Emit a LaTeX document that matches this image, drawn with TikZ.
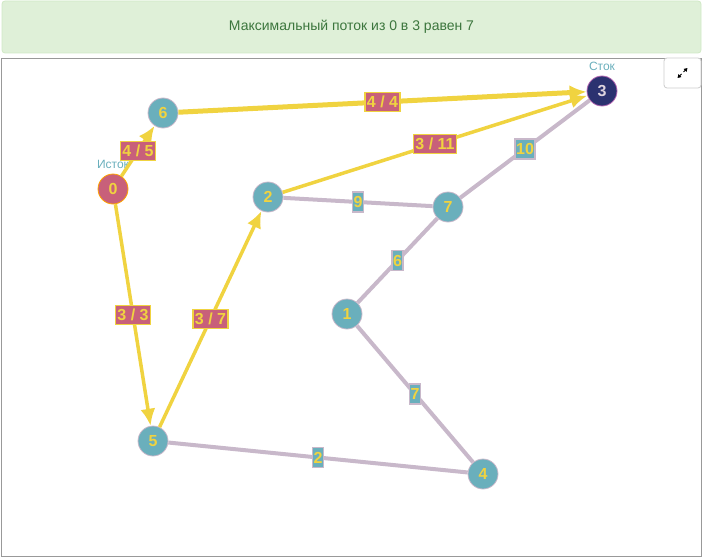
\documentclass[tikz,border=0pt]{standalone}
\usepackage{fontspec}
\setmainfont{Liberation Sans}
\usetikzlibrary{arrows,arrows.meta,positioning}
\definecolor{vtxteal}{HTML}{6AAFBC}
\definecolor{vtxred}{HTML}{C8607A}
\definecolor{vtxnavy}{HTML}{2B3270}
\definecolor{flowyel}{HTML}{F0D340}
\definecolor{restgrey}{HTML}{C8B8CA}
\definecolor{bannerbg}{HTML}{DFF0D8}
\definecolor{bannerln}{HTML}{D0E9C6}
\definecolor{bannertx}{HTML}{3C763D}
\tikzset{>={Latex[length=17pt,width=15pt]}}

\begin{document}
\begin{tikzpicture}[x=1pt,y=-1pt,
    vtx/.style={circle,minimum size=30pt,inner sep=0pt,fill=vtxteal,draw=restgrey,line width=0.8pt,
        text=flowyel,font=\fontsize{16}{16}\selectfont\bfseries},
    flow/.style={draw=flowyel,line width=3.5pt},
    rest/.style={draw=restgrey,line width=4pt},
    flowlbl/.style={rectangle,fill=vtxred,draw=flowyel,line width=1.6pt,text=flowyel,
        inner xsep=2pt,inner ysep=0pt,minimum height=19pt,font=\fontsize{16}{16}\selectfont\bfseries},
    restlbl/.style={rectangle,fill=vtxteal,draw=restgrey,line width=1.6pt,text=flowyel,
        inner xsep=1.2pt,inner ysep=0pt,minimum height=20pt,font=\fontsize{16}{16}\selectfont\bfseries},
    tag/.style={text=vtxteal,font=\fontsize{12}{12}\selectfont}]

        \useasboundingbox (0,0) rectangle (703,559);

        % banner and frame
        \node[draw=bannerln,fill=bannerbg,rounded corners=3pt,line width=0.8pt,minimum width=699pt,minimum height=52pt,
            text=bannertx,font=\fontsize{14}{14}\selectfont] (banner) at (351.5,27)
            {Максимальный поток из 0 в 3 равен 7};
        \draw[draw=black!40,line width=0.8pt] (1.5,58.5) rectangle (701.5,556);
        \node[draw=black!20,fill=white,rounded corners=3pt,minimum width=37pt,minimum height=30pt,line width=0.8pt]
            (expand) at (682.5,73) {};
        \draw[-{Triangle[length=3.5pt,width=4pt]},line width=1pt]
            ([shift={(1pt,1pt)}]expand.center) -- ([shift={(5pt,5pt)}]expand.center);
        \draw[-{Triangle[length=3.5pt,width=4pt]},line width=1pt]
            ([shift={(-1pt,-1pt)}]expand.center) -- ([shift={(-5pt,-5pt)}]expand.center);

        % nodes
        \node[vtx,fill=vtxred,draw=orange!70!yellow] (n0) at (113,189) {0};
        \node[vtx] (n6) at (163,113) {6};
        \node[vtx] (n2) at (268,197) {2};
        \node[vtx] (n7) at (448,207) {7};
        \node[vtx,fill=vtxnavy,draw=violet!60,text=restgrey!60] (n3) at (602,91) {3};
        \node[vtx] (n1) at (347,314) {1};
        \node[vtx] (n5) at (153,441) {5};
        \node[vtx] (n4) at (483,474) {4};

        \node[tag,above=1pt of n0] (src) {Исток};
        \node[tag,above=1pt of n3] (snk) {Сток};

        % residual edges
        \draw[rest] (n2) -- node[restlbl] (l27) {9} (n7);
        \draw[rest] (n7) -- node[restlbl] (l73) {10} (n3);
        \draw[rest] (n7) -- node[restlbl] (l71) {6} (n1);
        \draw[rest] (n1) -- node[restlbl] (l14) {7} (n4);
        \draw[rest] (n5) -- node[restlbl] (l54) {2} (n4);

        % flow arrows
        \draw[flow,->] (n0) -- node[flowlbl] (l06) {4 / 5} (n6);
        \draw[flow,->] (n0) -- node[flowlbl] (l05) {3 / 3} (n5);
        \draw[flow,->] (n5) -- node[flowlbl] (l52) {3 / 7} (n2);
        \draw[flow,->] (n2) -- node[flowlbl] (l23) {3 / 11} (n3);
        \draw[flow,line width=5pt,->] (n6) -- node[flowlbl] (l63) {4 / 4} (n3);

    \end{tikzpicture}
\end{document}
